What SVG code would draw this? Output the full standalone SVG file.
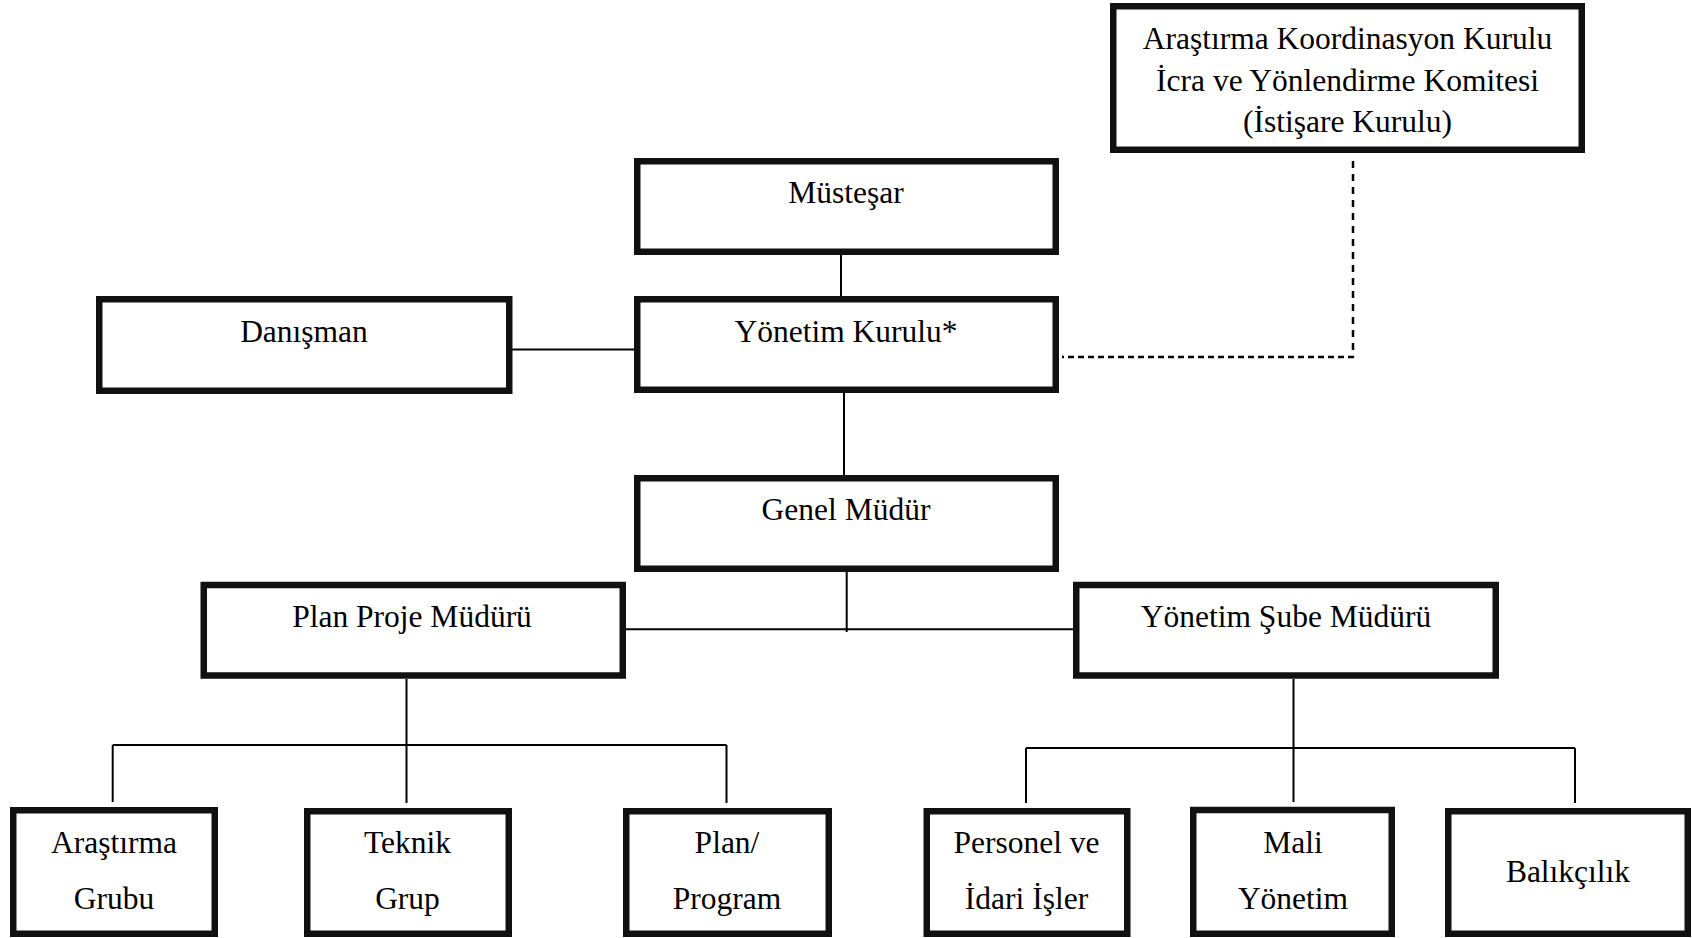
<svg xmlns="http://www.w3.org/2000/svg" width="1693" height="938" viewBox="0 0 1693 938">
  <style>
    .box { fill: #ffffff; stroke: #111111; stroke-width: 6.5; }
    .lbl { font-family: "Liberation Serif", "Times New Roman", serif; font-size: 31.5px; fill: #000000; text-anchor: middle; }
    .link { stroke: #000000; stroke-width: 2; fill: none; }
    .dash { stroke: #000000; stroke-width: 2.5; fill: none; }
  </style>
  <rect width="1693" height="938" fill="#ffffff"/>

  <!-- connectors -->
  <g id="connectors">
    <line class="link" x1="841" y1="255" x2="841" y2="297"/>
    <line class="link" x1="512" y1="349.5" x2="635" y2="349.5" stroke-width="2.5"/>
    <line class="link" x1="844" y1="393" x2="844" y2="476"/>
    <line class="link" x1="846.7" y1="572" x2="846.7" y2="632"/>
    <line class="link" x1="626" y1="629.3" x2="1081.7" y2="629.3"/>
    <line class="link" x1="406.5" y1="679" x2="406.5" y2="803"/>
    <line class="link" x1="112.7" y1="745" x2="726.5" y2="745"/>
    <line class="link" x1="112.7" y1="745" x2="112.7" y2="802"/>
    <line class="link" x1="726.5" y1="745" x2="726.5" y2="803"/>
    <line class="link" x1="1293.5" y1="679" x2="1293.5" y2="802"/>
    <line class="link" x1="1026" y1="748" x2="1575" y2="748"/>
    <line class="link" x1="1026" y1="748" x2="1026" y2="803"/>
    <line class="link" x1="1575" y1="748" x2="1575" y2="803"/>
    <line class="dash" x1="1353" y1="161" x2="1353" y2="357" stroke-dasharray="7 6"/>
    <line class="dash" x1="1354" y1="357" x2="1062" y2="357" stroke-dasharray="6 4"/>
  </g>

  <g id="node-akk">
    <rect class="box" x="1113.25" y="6.25" width="468.5" height="143.5"/>
    <text class="lbl" x="1347.5" y="49.3">Araştırma Koordinasyon Kurulu</text>
    <text class="lbl" x="1347.5" y="90.7">İcra ve Yönlendirme Komitesi</text>
    <text class="lbl" x="1347.5" y="131.7">(İstişare Kurulu)</text>
  </g>

  <g id="node-mustesar">
    <rect class="box" x="637.25" y="161.25" width="418.5" height="90.5"/>
    <text class="lbl" x="846" y="203">Müsteşar</text>
  </g>

  <g id="node-yonetim-kurulu">
    <rect class="box" x="637.25" y="299.25" width="418.5" height="90.5"/>
    <text class="lbl" x="846" y="342">Yönetim Kurulu*</text>
  </g>

  <g id="node-danisman">
    <rect class="box" x="99.25" y="299.25" width="410" height="91.5"/>
    <text class="lbl" x="304" y="342">Danışman</text>
  </g>

  <g id="node-genel-mudur">
    <rect class="box" x="637.25" y="478.25" width="418.5" height="90.5"/>
    <text class="lbl" x="846" y="520">Genel Müdür</text>
  </g>

  <g id="node-plan-proje">
    <rect class="box" x="203.75" y="585" width="419" height="90.5"/>
    <text class="lbl" x="412" y="627">Plan Proje Müdürü</text>
  </g>

  <g id="node-yonetim-sube">
    <rect class="box" x="1076.25" y="585" width="419.5" height="90.5"/>
    <text class="lbl" x="1286" y="627">Yönetim Şube Müdürü</text>
  </g>

  <g id="node-arastirma-grubu">
    <rect class="box" x="13.25" y="810.25" width="201.5" height="123.5"/>
    <text class="lbl" x="114" y="853">Araştırma</text>
    <text class="lbl" x="114" y="908.5">Grubu</text>
  </g>

  <g id="node-teknik-grup">
    <rect class="box" x="307.25" y="811.25" width="201.5" height="122.5"/>
    <text class="lbl" x="407.5" y="853">Teknik</text>
    <text class="lbl" x="407.5" y="908.5">Grup</text>
  </g>

  <g id="node-plan-program">
    <rect class="box" x="626.25" y="811.25" width="202.5" height="122.5"/>
    <text class="lbl" x="727" y="853">Plan/</text>
    <text class="lbl" x="727" y="908.5">Program</text>
  </g>

  <g id="node-personel">
    <rect class="box" x="926.75" y="811.25" width="200.5" height="122.5"/>
    <text class="lbl" x="1026.5" y="853">Personel ve</text>
    <text class="lbl" x="1026.5" y="908.5">İdari İşler</text>
  </g>

  <g id="node-mali">
    <rect class="box" x="1193.25" y="810" width="198.5" height="123.75"/>
    <text class="lbl" x="1293" y="853">Mali</text>
    <text class="lbl" x="1293" y="908.5">Yönetim</text>
  </g>

  <g id="node-balikcilik">
    <rect class="box" x="1448.25" y="811.25" width="239.5" height="122.5"/>
    <text class="lbl" x="1568" y="881.5">Balıkçılık</text>
  </g>
</svg>
